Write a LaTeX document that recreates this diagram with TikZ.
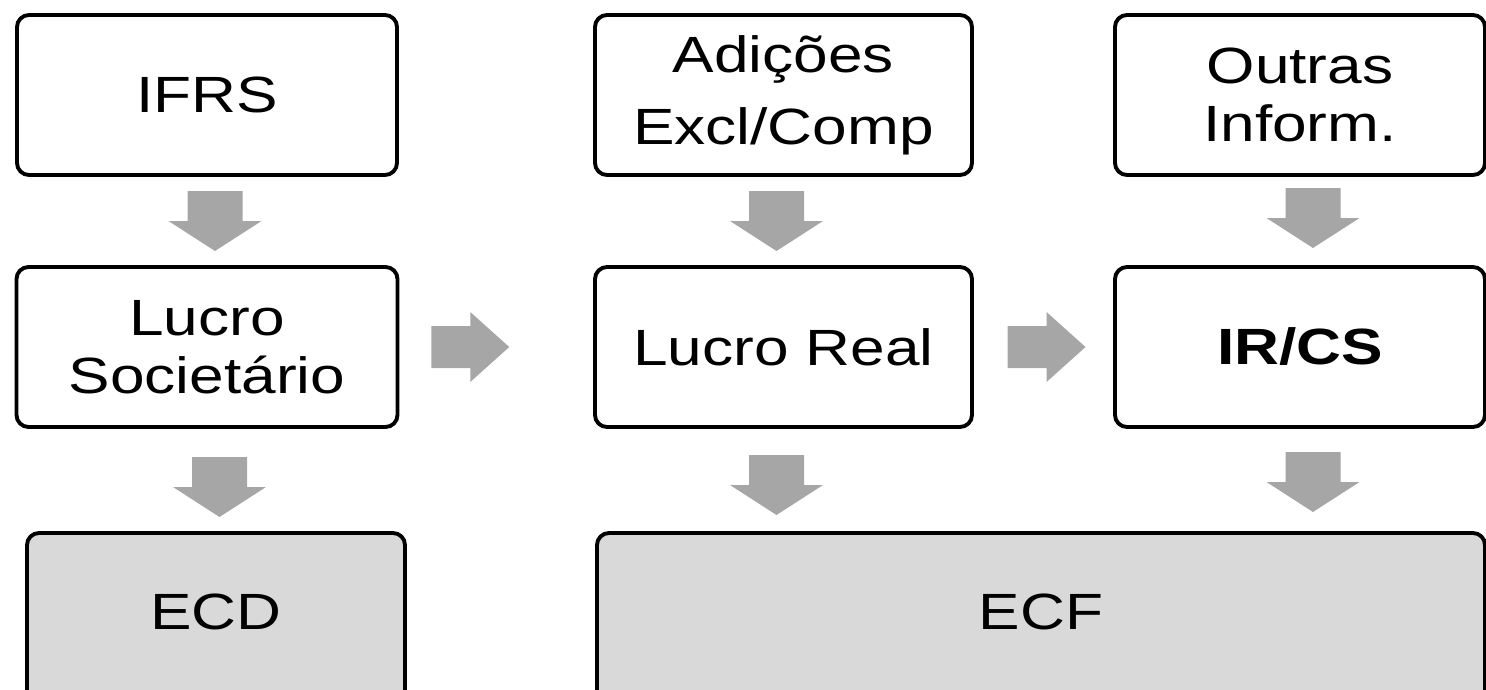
\documentclass[tikz,border=0pt]{standalone}
\usepackage{fontspec}
\setmainfont[FakeStretch=1.22]{Liberation Sans}
\usetikzlibrary{calc}

\definecolor{arrowgray}{HTML}{A6A6A6}
\definecolor{boxgray}{HTML}{D9D9D9}

\tikzset{
    box/.style={draw, line width=1.1pt, rounded corners=0.12cm, align=center,
        inner sep=0pt, minimum height=1.6cm,
        font=\fontsize{14.5pt}{16.5pt}\selectfont},
    filedbox/.style={box, fill=boxgray, minimum height=1.74cm},
    blockdown/.pic={\fill[arrowgray] (-0.275,0.3) -- (0.275,0.3) -- (0.275,0)
        -- (0.465,0) -- (0,-0.3) -- (-0.465,0) -- (-0.275,0) -- cycle;},
    blockright/.pic={\fill[arrowgray] (-0.39,0.21) -- (0,0.21) -- (0,0.35)
        -- (0.39,0) -- (0,-0.35) -- (0,-0.21) -- (-0.39,-0.21) -- cycle;}
}

\begin{document}
\begin{tikzpicture}
    \useasboundingbox (0,0) rectangle (14.86,6.89);

    % Top row
    \node[box, minimum width=3.80cm] (ifrs) at (2.07,5.94) {IFRS};
    \node[box, minimum width=3.77cm] (adic) at (7.835,5.94) {Adições\\[4pt]Excl/Comp};
    \node[box, minimum width=3.70cm] (outras) at (13.00,5.94) {Outras\\Inform.};

    % Middle row
    \node[box, minimum width=3.81cm] (soc) at (2.07,3.42) {Lucro\\Societário};
    \node[box, minimum width=3.77cm] (lreal) at (7.835,3.42) {Lucro Real};
    \node[box, minimum width=3.70cm] (ircs) at (13.00,3.42) {\bfseries IR/CS};

    % Bottom row (runs off the lower edge)
    \node[filedbox, minimum width=3.78cm] (ecd) at (2.16,0.69) {\raisebox{5pt}{ECD}};
    \node[filedbox, minimum width=8.88cm] (ecf) at (10.41,0.69) {\raisebox{5pt}{ECF}};

    % Arrows down
    \pic[xshift=0.08cm] at ($(ifrs.south)!0.5!(soc.north)$) {blockdown};
    \pic[xshift=-0.07cm] at ($(adic.south)!0.5!(lreal.north)$) {blockdown};
    \pic[xshift=0.13cm, yshift=0.03cm] at ($(outras.south)!0.5!(ircs.north)$) {blockdown};
    \pic[xshift=0.08cm, yshift=-0.07cm] at ($(soc.south)!0.5!(ecd.north)$) {blockdown};
    \pic[xshift=-0.07cm, yshift=-0.05cm] at ($(lreal.south)!0.5!(lreal.south|-ecf.north)$) {blockdown};
    \pic[xshift=0.13cm, yshift=-0.02cm] at ($(ircs.south)!0.5!(ircs.south|-ecf.north)$) {blockdown};

    % Arrows right
    \pic[xshift=-0.26cm] at ($(soc.east)!0.5!(lreal.west)$) {blockright};
    \pic[xshift=0.03cm] at ($(lreal.east)!0.5!(ircs.west)$) {blockright};
\end{tikzpicture}
\end{document}
